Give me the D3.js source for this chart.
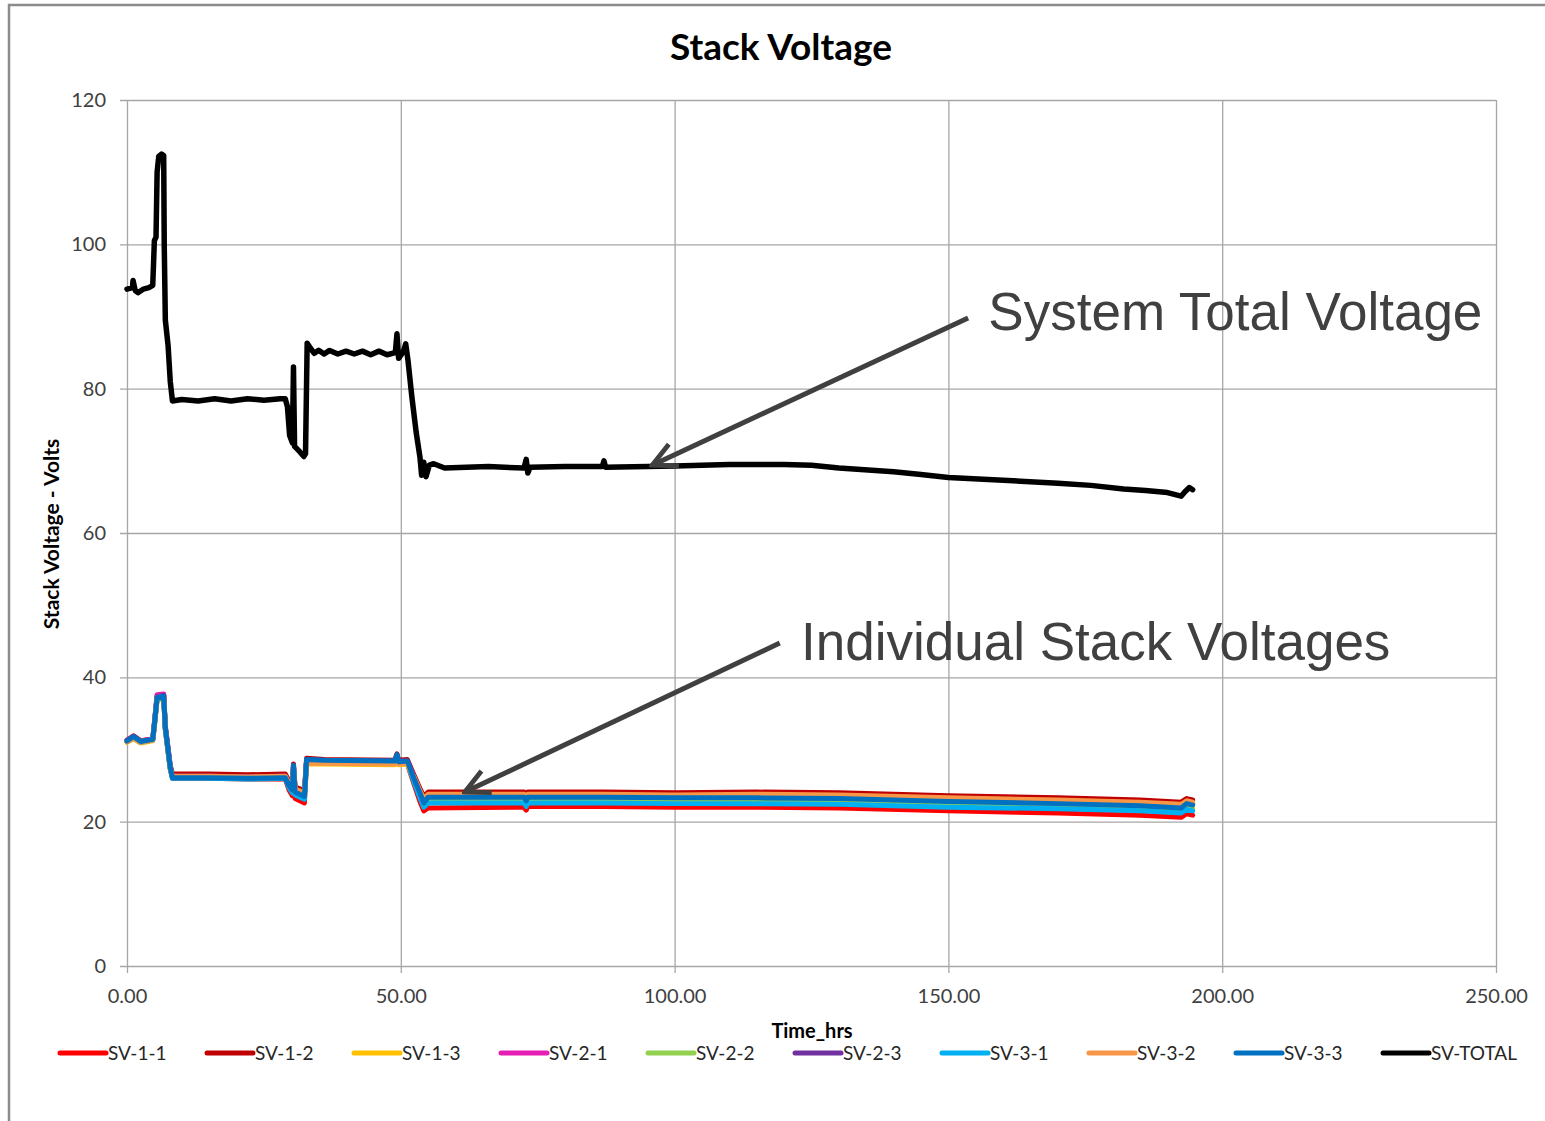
<!DOCTYPE html>
<html>
<head>
<meta charset="utf-8">
<script src="https://cdn.jsdelivr.net/npm/d3@7"></script>
<style>
  body { margin: 0; background: #fff; }
  svg { display: block; }
</style>
</head>
<body>
<script>
// DATA
var seriesNames = ["SV-1-1", "SV-1-2", "SV-1-3", "SV-2-1", "SV-2-2", "SV-2-3", "SV-3-1", "SV-3-2", "SV-3-3", "SV-TOTAL"];
var seriesColors = ["#ff0000", "#c00000", "#ffc000", "#e61fb4", "#92d050", "#7030a0", "#00b0f0", "#f79646", "#0070c0", "#000000"];

var xTicks = [0, 50, 100, 150, 200, 250];
var yTicks = [0, 20, 40, 60, 80, 100, 120];

var stackTime = [0, 1.2, 2.5, 4.7, 5.0, 5.5, 6.7, 7.0, 7.9, 8.3, 15, 22, 28.9, 29.6, 30.2, 30.4, 30.7, 32.4, 32.8, 36, 48.9, 49.3, 49.6, 51.2, 52.5, 53.5, 54.2, 55, 72.5, 72.9, 73.2, 87, 100, 115, 130, 150, 170, 185, 192.5, 193.5, 194.6];

var sv11 = [31.1, 31.6, 31.0, 31.3, 33.3, 37.0, 37.3, 32.8, 27.3, 26.0, 26.0, 25.9, 25.9, 24.4, 23.6, 27.0, 23.2, 22.6, 28.4, 28.3, 28.3, 29.0, 28.1, 28.0, 25.0, 22.8, 21.5, 21.9, 22.0, 21.6, 22.1, 22.1, 22.0, 22.0, 21.9, 21.5, 21.2, 20.9, 20.6, 21.1, 20.9];
var sv12 = [31.3, 31.9, 31.2, 31.5, 33.7, 37.5, 37.6, 33.2, 27.8, 26.6, 26.6, 26.5, 26.6, 25.6, 25.0, 28.0, 24.8, 24.3, 28.8, 28.6, 28.5, 29.4, 28.5, 28.6, 26.3, 24.6, 23.5, 24.1, 24.1, 23.6, 24.1, 24.1, 24.0, 24.1, 24.0, 23.6, 23.3, 23.0, 22.7, 23.2, 23.0];
var sv13 = [31.0, 31.5, 30.9, 31.2, 33.2, 36.9, 37.1, 32.7, 27.3, 26.2, 26.2, 26.1, 26.2, 25.1, 24.5, 27.5, 24.2, 23.7, 28.0, 28.0, 27.9, 28.8, 27.9, 28.0, 25.6, 23.8, 22.5, 23.0, 23.0, 22.5, 23.0, 23.0, 22.9, 22.9, 22.8, 22.4, 22.1, 21.8, 21.5, 22.0, 21.8];
var sv21 = [31.3, 31.8, 31.2, 31.5, 33.6, 37.6, 37.7, 33.1, 27.6, 26.3, 26.3, 26.2, 26.3, 25.3, 24.7, 27.7, 24.4, 23.9, 28.6, 28.4, 28.3, 29.1, 28.3, 28.4, 26.0, 24.2, 23.0, 23.6, 23.6, 23.1, 23.6, 23.6, 23.5, 23.5, 23.4, 23.0, 22.7, 22.4, 22.1, 22.6, 22.4];
var sv22 = [31.2, 31.7, 31.1, 31.4, 33.4, 37.1, 37.3, 32.9, 27.4, 26.2, 26.2, 26.1, 26.2, 25.0, 24.3, 27.6, 24.0, 23.5, 28.4, 28.3, 28.2, 29.0, 28.2, 28.2, 25.6, 23.7, 22.4, 22.9, 22.9, 22.4, 22.9, 22.9, 22.8, 22.8, 22.7, 22.3, 22.0, 21.8, 21.4, 21.9, 21.7];
var sv23 = [31.2, 31.8, 31.1, 31.4, 33.5, 37.3, 37.5, 33.0, 27.5, 26.3, 26.3, 26.2, 26.3, 25.2, 24.6, 27.8, 24.3, 23.8, 28.6, 28.5, 28.4, 29.2, 28.4, 28.4, 25.9, 24.1, 22.9, 23.7, 23.7, 23.2, 23.7, 23.7, 23.6, 23.6, 23.5, 23.1, 22.8, 22.5, 22.2, 22.7, 22.5];
var sv31 = [31.1, 31.6, 31.0, 31.3, 33.3, 37.1, 37.2, 32.8, 27.3, 26.0, 26.0, 25.9, 26.0, 24.7, 24.0, 27.4, 23.7, 23.1, 28.4, 28.3, 28.3, 29.0, 28.1, 28.2, 25.3, 23.3, 22.0, 22.6, 22.6, 22.1, 22.6, 22.6, 22.5, 22.5, 22.4, 22.0, 21.8, 21.5, 21.2, 21.7, 21.5];
var sv32 = [31.1, 31.6, 31.0, 31.3, 33.4, 37.2, 37.3, 32.9, 27.4, 26.3, 26.3, 26.2, 26.3, 25.3, 24.7, 27.7, 24.5, 24.0, 28.1, 28.1, 28.0, 28.9, 28.0, 28.1, 26.0, 24.3, 23.2, 23.8, 23.8, 23.3, 23.8, 23.8, 23.7, 23.8, 23.7, 23.3, 23.0, 22.7, 22.4, 22.9, 22.7];
var sv33 = [31.2, 31.8, 31.1, 31.4, 33.5, 37.2, 37.4, 33.0, 27.5, 26.1, 26.1, 26.0, 26.1, 25.0, 24.4, 27.8, 24.1, 23.5, 28.6, 28.5, 28.4, 29.3, 28.3, 28.4, 25.8, 24.0, 22.6, 23.4, 23.4, 22.9, 23.4, 23.4, 23.3, 23.3, 23.2, 22.8, 22.5, 22.2, 21.9, 22.5, 22.3];

var totalTime = [0, 1.0, 1.1, 1.5, 2, 3, 4, 4.7, 5.0, 5.3, 5.5, 5.8, 6.3, 6.7, 6.8, 7.0, 7.5, 7.9, 8.3, 10, 13, 16, 19, 22, 25, 28.0, 28.9, 29.3, 29.7, 30.2, 30.4, 30.6, 31.5, 32.3, 32.6, 32.9, 33.5, 34.2, 35, 36, 37, 38.5, 40, 41.5, 43, 44.5, 46, 47.5, 49.0, 49.3, 49.6, 50.5, 50.9, 51.3, 52, 52.8, 53.5, 53.8, 54.2, 54.6, 55.2, 56, 58, 62, 66, 72.5, 72.9, 73.2, 73.6, 80, 86.8, 87.1, 87.4, 95, 100, 105, 110, 120, 125, 130, 140, 145, 150, 160, 170, 176, 182, 186, 190, 192.5, 193.3, 194.0, 194.6];
var svTotal = [93.8, 94.0, 95.0, 93.6, 93.3, 93.8, 94.0, 94.3, 100.5, 101.0, 110.0, 112.2, 112.5, 112.3, 100.0, 89.5, 86.0, 81.0, 78.3, 78.5, 78.3, 78.6, 78.3, 78.6, 78.4, 78.6, 78.6, 77.5, 73.5, 72.5, 83.0, 72.0, 71.3, 70.6, 71.0, 86.3, 85.6, 84.9, 85.3, 84.8, 85.3, 84.8, 85.2, 84.8, 85.2, 84.7, 85.2, 84.7, 85.0, 87.6, 84.2, 85.2, 86.2, 84.0, 79.0, 74.0, 70.5, 68.0, 69.8, 67.8, 69.4, 69.6, 69.0, 69.1, 69.2, 69.0, 70.2, 68.3, 69.1, 69.2, 69.2, 70.0, 69.1, 69.2, 69.3, 69.4, 69.5, 69.5, 69.4, 69.0, 68.5, 68.1, 67.7, 67.3, 66.9, 66.6, 66.1, 65.9, 65.6, 65.1, 65.8, 66.3, 66.0];

var stackValues = [sv11, sv12, sv13, sv21, sv22, sv23, sv31, sv32, sv33];

// ANNOTATIONS (text + arrow, in data units)
var annoText = ["System Total Voltage", "Individual Stack Voltages"];
var annoTextPos = [[157.3, 88.1], [123.1, 42.4]];
var annoFrom = [[153.6, 89.8], [119.2, 44.75]];
var annoTo = [[95.9, 69.4], [61.7, 24.1]];

// SET DIMENSIONS OF CANVAS
var W = 1545, H = 1121;
var margin = {top: 100, right: 49, bottom: 155, left: 127},
    width = W - margin.left - margin.right,
    height = H - margin.top - margin.bottom;

var svg = d3.select("body")
    .append("svg")
    .attr("width", W)
    .attr("height", H);

// OUTER FRAME
svg.append("path")
    .attr("d", "M9,1121 L9,5 L1545,5")
    .attr("fill", "none")
    .attr("stroke", "#8c8c8c")
    .attr("stroke-width", 2.5);

var g = svg.append("g")
    .attr("transform", "translate(" + margin.left + "," + margin.top + ")");

// SET RANGES
var x = d3.scaleLinear().domain([0, 250]).range([0, width]);
var y = d3.scaleLinear().domain([0, 120]).range([height, 0]);

var gridColor = "#a6a6a6";

// DEFINE AXIS
var yAxis = d3.axisLeft(y)
    .tickValues(yTicks)
    .tickSizeInner(-width)
    .tickSizeOuter(0)
    .tickPadding(21)
    .tickFormat(d3.format("d"));

var xAxis = d3.axisBottom(x)
    .tickValues(xTicks)
    .tickSizeInner(-height)
    .tickSizeOuter(0)
    .tickPadding(23)
    .tickFormat(d3.format(".2f"));

var gy = g.append("g").call(yAxis);
gy.select(".domain").remove();
gy.selectAll(".tick line").attr("x1", -7).attr("stroke", gridColor).attr("stroke-width", 1.3);
gy.selectAll(".tick text")
    .style("font-family", "Lato, 'Open Sans', sans-serif")
    .style("font-size", "20px")
    .attr("fill", "#404040");

var gx = g.append("g")
    .attr("transform", "translate(0," + height + ")")
    .call(xAxis);
gx.select(".domain").remove();
gx.selectAll(".tick line").attr("y1", 7).attr("stroke", gridColor).attr("stroke-width", 1.3);
gx.selectAll(".tick text")
    .style("font-family", "Lato, 'Open Sans', sans-serif")
    .style("font-size", "20px")
    .attr("fill", "#404040");

// LINES
var line = d3.line()
    .x(function(d) { return x(d[0]); })
    .y(function(d) { return y(d[1]); });

stackValues.forEach(function(vals, i) {
    var pts = stackTime.map(function(t, j) { return [t, vals[j]]; });
    g.append("path")
        .datum(pts)
        .attr("d", line)
        .attr("fill", "none")
        .attr("stroke", seriesColors[i])
        .attr("stroke-width", 5)
        .attr("stroke-linejoin", "round")
        .attr("stroke-linecap", "round");
});

var totalPts = totalTime.map(function(t, j) { return [t, svTotal[j]]; });
g.append("path")
    .datum(totalPts)
    .attr("d", line)
    .attr("fill", "none")
    .attr("stroke", seriesColors[9])
    .attr("stroke-width", 5.5)
    .attr("stroke-linejoin", "round")
    .attr("stroke-linecap", "round");

// ARROWS + TEXT
svg.append("defs").append("marker")
    .attr("id", "head")
    .attr("viewBox", "0 0 10 10")
    .attr("refX", 9)
    .attr("refY", 5)
    .attr("markerWidth", 6)
    .attr("markerHeight", 6)
    .attr("markerUnits", "strokeWidth")
    .attr("orient", "auto")
  .append("path")
    .attr("d", "M1,1 L9,5 L1,9")
    .attr("fill", "none")
    .attr("stroke", "#404040")
    .attr("stroke-width", 1.6);

annoText.forEach(function(txt, i) {
    g.append("line")
        .attr("x1", x(annoFrom[i][0]))
        .attr("y1", y(annoFrom[i][1]))
        .attr("x2", x(annoTo[i][0]))
        .attr("y2", y(annoTo[i][1]))
        .attr("stroke", "#404040")
        .attr("stroke-width", 5)
        .attr("marker-end", "url(#head)");
    g.append("text")
        .attr("x", x(annoTextPos[i][0]))
        .attr("y", y(annoTextPos[i][1]))
        .attr("fill", "#404040")
        .style("font-family", "'Liberation Sans', Arial, sans-serif")
        .style("font-size", "53px")
        .text(txt);
});

// TITLES
svg.append("text")
    .attr("x", 781)
    .attr("y", 60)
    .attr("text-anchor", "middle")
    .style("font-family", "Lato, 'Open Sans', sans-serif")
    .style("font-weight", "bold")
    .style("font-size", "37px")
    .text("Stack Voltage");

svg.append("text")
    .attr("transform", "translate(59,534) rotate(-90)")
    .attr("text-anchor", "middle")
    .style("font-family", "Lato, 'Open Sans', sans-serif")
    .style("font-weight", "bold")
    .style("font-size", "21px")
    .text("Stack Voltage - Volts");

svg.append("text")
    .attr("x", 812)
    .attr("y", 1038)
    .attr("text-anchor", "middle")
    .style("font-family", "Lato, 'Open Sans', sans-serif")
    .style("font-weight", "bold")
    .style("font-size", "20px")
    .text("Time_hrs");

// LEGEND
var legend = svg.append("g")
    .attr("transform", "translate(60,1053)")
    .selectAll("g")
    .data(seriesNames)
    .enter().append("g")
    .attr("transform", function(d, i) { return "translate(" + (i * 147) + ",0)"; });

legend.append("line")
    .attr("x1", 0).attr("x2", 46)
    .attr("y1", 0).attr("y2", 0)
    .attr("stroke", function(d, i) { return seriesColors[i]; })
    .attr("stroke-width", 5)
    .attr("stroke-linecap", "round");

legend.append("text")
    .attr("x", 48)
    .attr("y", 7)
    .attr("fill", "#262626")
    .style("font-family", "Lato, 'Open Sans', sans-serif")
    .style("font-size", "19px")
    .text(function(d) { return d; });
</script>
</body>
</html>
